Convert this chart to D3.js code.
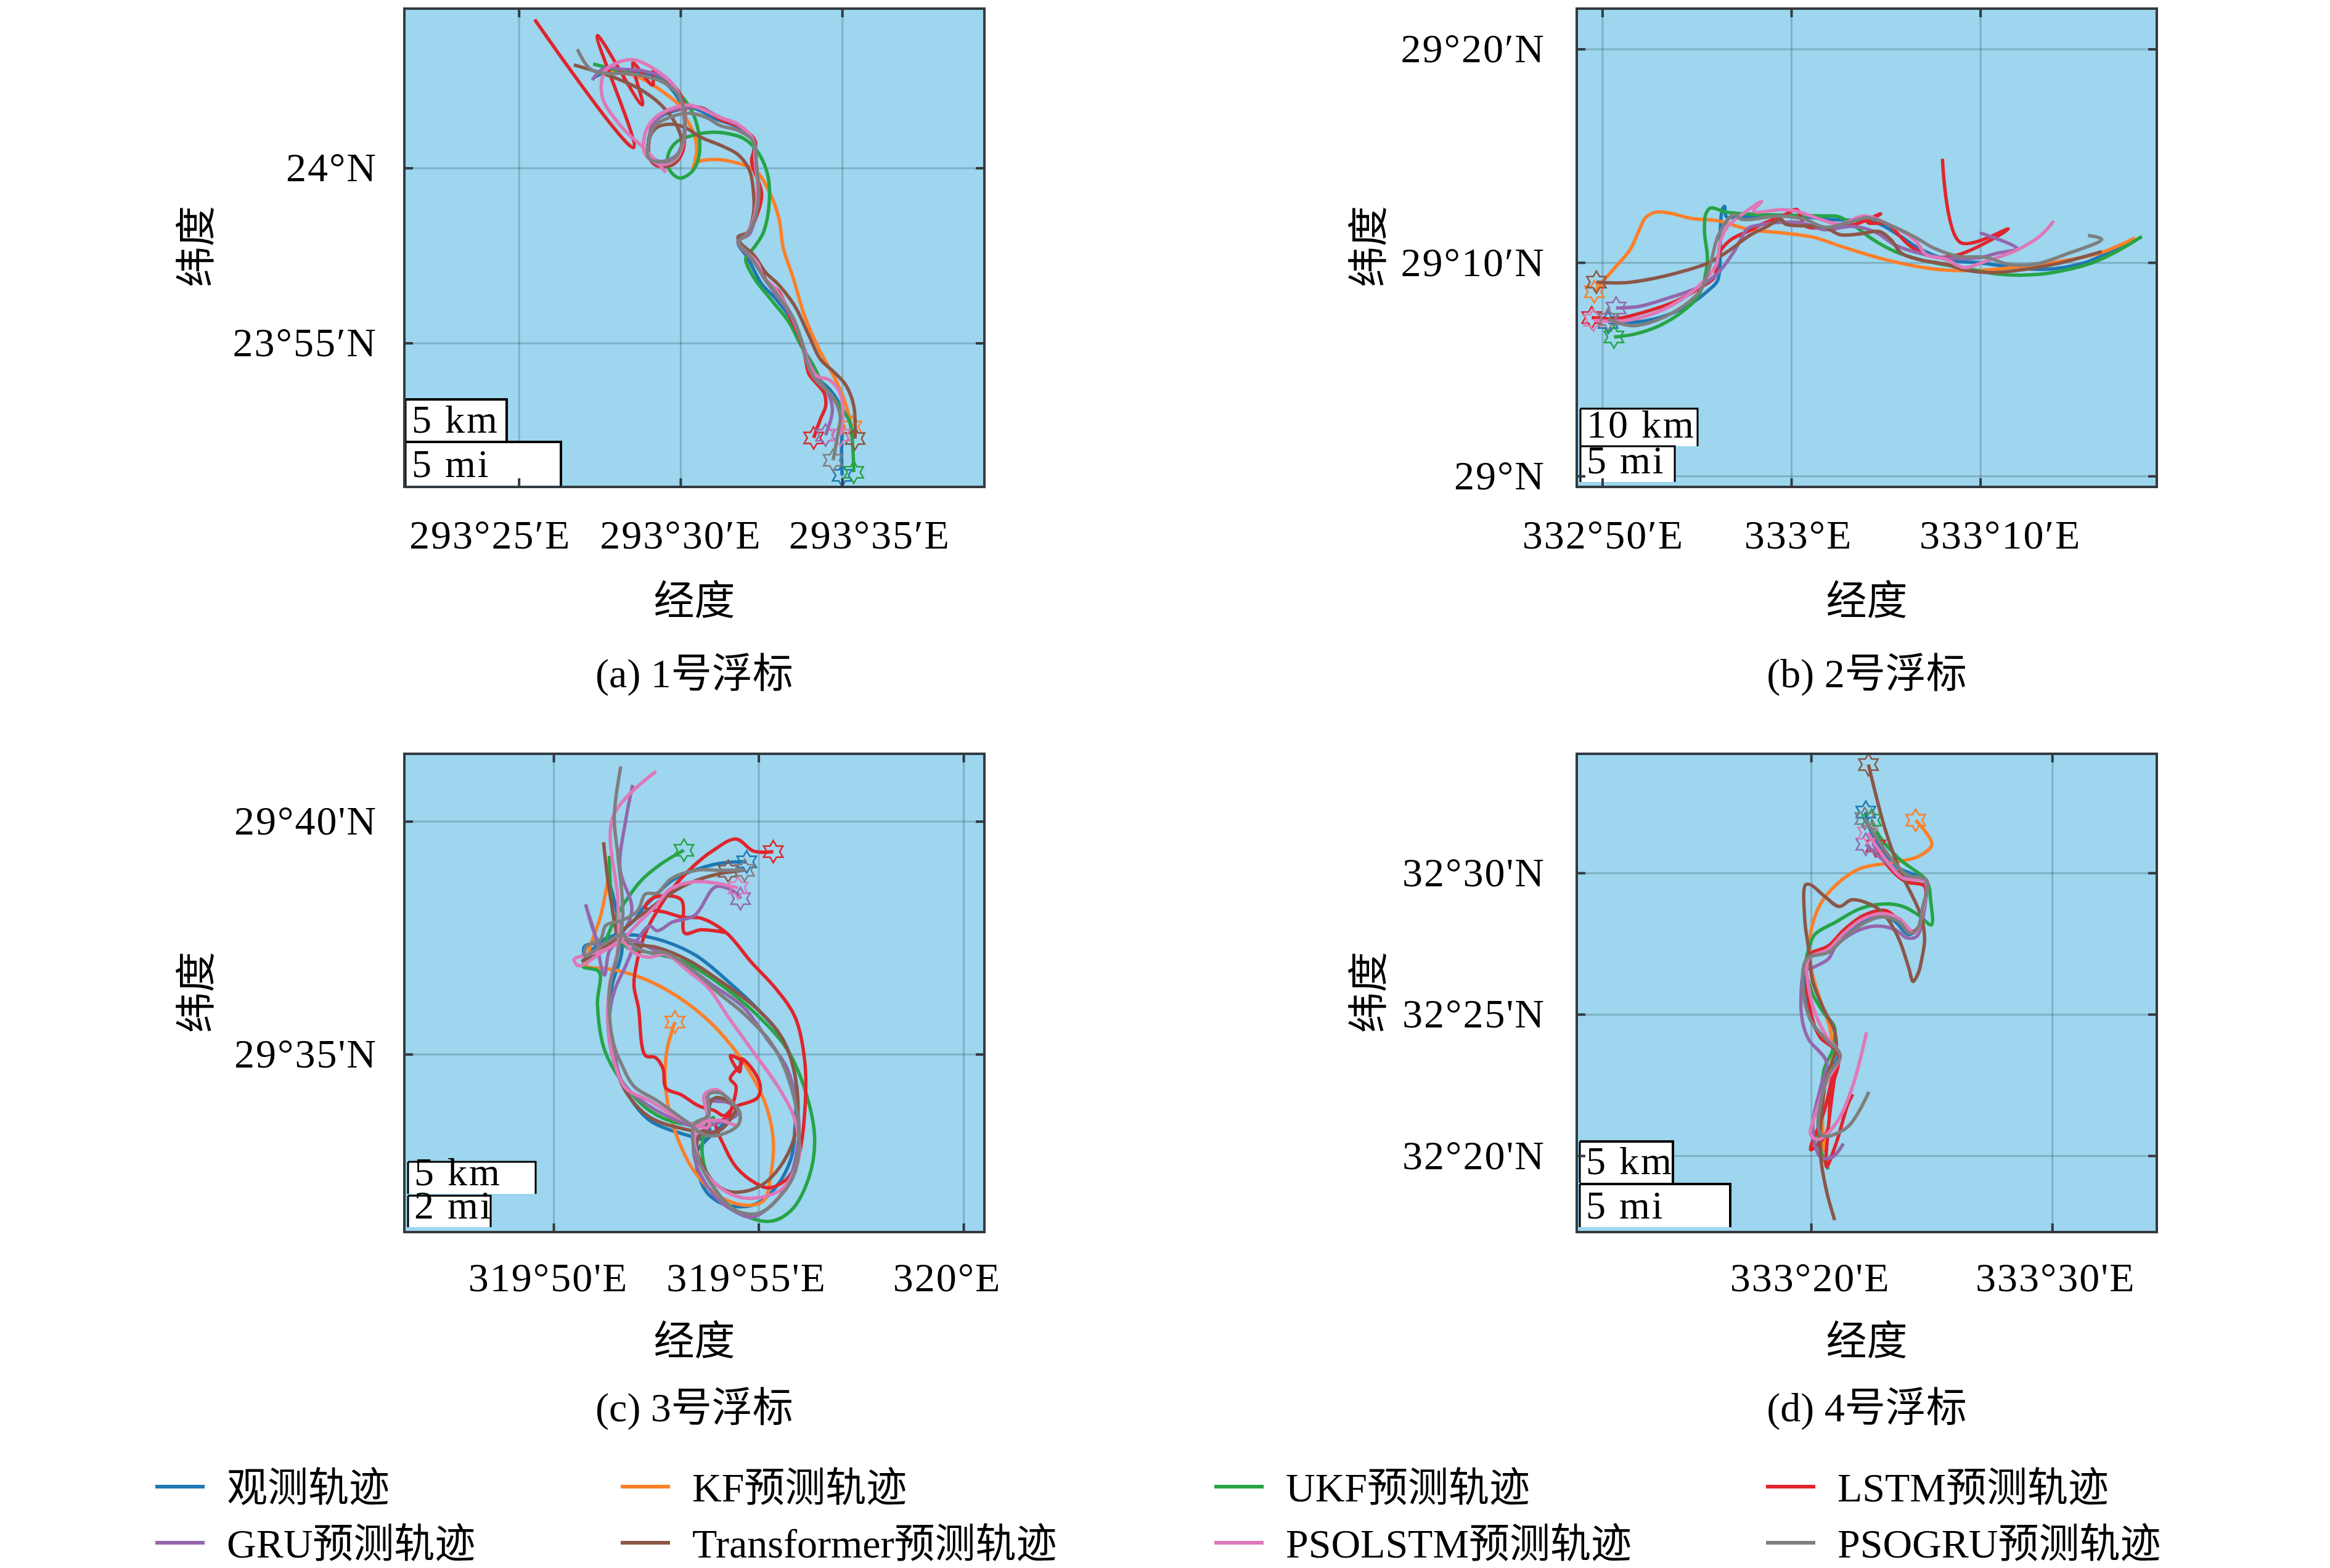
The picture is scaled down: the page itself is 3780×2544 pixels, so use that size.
<!DOCTYPE html>
<html>
<head>
<meta charset="utf-8">
<script src="https://cdn.jsdelivr.net/npm/d3@7"></script>
<style>
  html, body { margin: 0; background: #fff; }
  text { font-family: "Liberation Serif", "Noto Sans CJK SC"; fill: #000; }
</style>
</head>
<body>
<svg id="chart" width="3780" height="2544"></svg>
<script>
// tracks are [lon, lat], both in arc minutes past the base degree of the buoy
// buoy 1: 293°E, 23°N
const buoy1Obs = [[35.00,51.22],[34.98,51.91],[35.00,52.64],[34.94,53.20],[34.63,53.66],[34.21,54.02],[33.97,54.39],[33.72,55.04],[33.42,55.68],[32.93,56.28],[32.51,56.69],[32.08,57.43],[31.78,57.89],[32.14,58.17],[32.32,58.81],[32.38,59.64],[32.26,60.38],[32.26,60.75],[31.78,61.16],[31.11,61.39],[30.38,61.71],[29.77,61.62],[29.28,61.39],[29.04,60.93],[29.04,60.38],[29.46,60.15],[29.89,60.29],[30.13,60.93],[30.07,61.67],[29.83,62.13],[29.28,62.59],[28.55,62.73],[27.70,62.73],[27.34,62.59]];
const buoy1Kf = [[35.30,52.60],[35.06,53.38],[34.76,54.02],[34.27,54.85],[33.84,55.77],[33.48,56.88],[33.18,57.71],[33.05,58.54],[32.75,59.32],[32.32,59.92],[31.72,60.15],[30.99,60.24],[30.50,60.15],[30.38,59.92],[30.50,60.47],[30.44,60.93],[30.19,61.39],[29.95,61.80],[29.46,62.17],[28.92,62.50],[28.31,62.70],[27.70,62.73]];
const buoy1Ukf = [[35.36,51.31],[35.33,52.00],[35.24,52.73],[34.94,53.20],[34.45,53.75],[34.09,54.39],[33.72,54.94],[33.36,55.59],[32.81,56.23],[32.26,56.88],[32.02,57.43],[32.26,57.71],[32.57,58.17],[32.75,59.09],[32.69,59.83],[32.38,60.47],[31.96,60.84],[31.47,60.98],[30.99,61.02],[30.38,60.93],[29.89,60.75],[29.62,60.38],[29.65,59.96],[29.98,59.71],[30.38,59.92],[30.58,60.38],[30.56,61.02],[30.38,61.57],[30.13,61.94],[29.65,62.40],[29.04,62.59],[28.31,62.73],[27.76,62.86],[27.30,62.97]];
const buoy1Lstm = [[34.12,52.29],[34.33,52.83],[34.49,53.20],[34.45,53.56],[34.21,53.84],[33.97,54.12],[33.84,54.67],[33.66,55.22],[33.42,55.68],[33.05,56.46],[32.69,56.74],[32.45,57.15],[32.08,57.52],[31.78,57.89],[32.08,58.12],[32.32,58.54],[32.51,59.27],[32.20,60.19],[32.32,60.75],[31.84,61.16],[31.23,61.39],[30.68,61.71],[30.13,61.71],[29.53,61.57],[29.16,61.30],[29.04,60.84],[29.04,60.29],[29.28,60.06],[29.77,60.10],[30.07,60.47],[30.13,61.11],[30.13,61.67],[29.95,62.17],[29.53,62.54],[29.16,62.77],[29.14,62.36],[28.53,63.00],[28.82,61.80],[27.43,63.78],[28.55,60.58],[25.49,64.24]];
const buoy1Gru = [[34.49,52.37],[34.70,53.10],[34.57,53.56],[34.21,54.02],[33.97,54.48],[33.72,55.13],[33.42,55.77],[32.93,56.42],[32.63,56.79],[32.32,57.25],[32.08,57.52],[31.78,57.89],[32.14,58.12],[32.32,58.63],[32.42,59.27],[32.32,60.19],[32.26,60.75],[31.78,61.21],[31.23,61.44],[30.62,61.71],[30.01,61.71],[29.46,61.53],[29.16,61.25],[29.04,60.84],[29.04,60.29],[29.46,60.19],[29.89,60.38],[30.07,60.75],[30.11,61.48],[29.89,62.22],[29.46,62.59],[28.86,62.77],[28.19,62.82],[27.64,62.85],[27.27,62.51]];
const buoy1Transformer = [[35.40,52.27],[35.36,53.20],[35.12,53.79],[34.76,54.16],[34.33,54.53],[33.97,55.22],[33.54,56.05],[33.05,56.65],[32.63,57.02],[32.26,57.52],[31.84,57.87],[31.78,58.03],[32.08,58.17],[32.26,58.72],[32.26,59.27],[32.14,59.92],[31.78,60.38],[31.23,60.65],[30.62,60.88],[30.13,61.16],[29.71,61.25],[29.28,61.16],[29.04,60.84],[29.04,60.29],[29.53,60.03],[29.89,60.24],[30.04,60.75],[29.83,61.30],[29.40,61.80],[28.80,62.22],[28.07,62.54],[27.34,62.77],[26.70,62.94]];
const buoy1PsoLstm = [[34.94,52.37],[35.02,52.92],[34.94,53.56],[34.63,53.93],[34.21,54.07],[33.97,54.39],[33.72,55.13],[33.42,55.82],[32.93,56.56],[32.57,56.88],[32.38,57.29],[32.08,57.57],[31.78,57.89],[32.02,58.08],[32.26,58.54],[32.38,59.36],[32.30,60.29],[32.26,60.79],[31.78,61.25],[31.23,61.44],[30.68,61.67],[30.26,61.80],[29.65,61.67],[29.16,61.39],[28.89,60.93],[28.92,60.38],[29.46,60.10],[29.89,60.29],[30.11,60.84],[30.11,61.57],[29.83,62.31],[29.28,62.77],[28.55,63.09],[27.94,62.96],[27.64,62.73],[27.58,62.03],[28.19,61.16],[28.92,60.52],[29.55,59.87]];
const buoy1PsoGru = [[34.72,51.65],[34.88,52.46],[34.94,52.92],[34.70,53.47],[34.15,53.98],[33.90,54.48],[33.72,55.13],[33.48,55.73],[32.93,56.46],[32.57,56.88],[32.26,57.34],[32.02,57.62],[31.78,57.89],[32.08,58.12],[32.32,58.63],[32.42,59.27],[32.35,60.10],[32.26,60.75],[31.78,61.07],[31.23,61.21],[30.80,61.44],[30.26,61.56],[29.65,61.44],[29.22,61.21],[29.04,60.84],[29.01,60.29],[29.40,60.17],[29.83,60.29],[30.07,60.75],[30.13,61.48],[29.95,62.08],[29.46,62.45],[28.86,62.63],[28.19,62.70],[27.70,62.70],[27.21,62.82],[26.81,63.39]];

// buoy 2: 332°E, 29°N
const buoy2Obs = [[50.31,7.19],[51.56,7.19],[53.02,7.42],[54.47,7.95],[55.62,8.70],[56.10,9.15],[56.24,10.36],[56.24,11.42],[56.35,12.48],[56.47,12.63],[56.56,12.15],[57.39,12.15],[59.88,12.21],[61.97,12.02],[64.46,11.87],[65.71,11.27],[66.75,10.66],[68.21,10.14],[70.00,9.98],[71.33,9.83],[73.41,9.68],[75.49,9.98],[76.53,10.36],[78.20,11.04]];
const buoy2Kf = [[49.58,8.63],[50.52,9.61],[51.46,10.59],[51.98,11.57],[52.29,12.10],[52.85,12.36],[53.64,12.30],[54.68,12.07],[56.14,11.95],[57.80,11.54],[59.47,11.39],[61.13,11.19],[62.80,10.71],[64.67,10.21],[66.54,9.83],[68.21,9.64],[70.08,9.64],[71.95,9.79],[74.04,10.03],[76.32,10.44],[78.20,11.15]];
const buoy2Ukf = [[50.62,6.51],[51.77,6.66],[53.02,7.04],[54.27,7.72],[55.10,8.47],[55.56,10.06],[55.41,11.42],[55.47,12.25],[55.72,12.55],[56.56,12.36],[58.22,12.25],[59.88,12.21],[61.76,12.18],[62.49,12.15],[63.21,11.80],[64.25,11.12],[65.50,10.51],[67.17,10.06],[69.04,9.76],[70.91,9.46],[72.37,9.41],[73.83,9.53],[75.91,9.98],[77.37,10.59],[78.55,11.22]];
const buoy2Lstm = [[49.44,7.42],[50.73,7.37],[52.39,7.72],[53.85,8.17],[55.10,8.78],[55.93,9.31],[56.14,10.36],[56.76,11.04],[57.80,11.50],[58.64,11.87],[59.68,12.25],[60.30,12.48],[60.72,11.72],[61.97,11.65],[63.42,11.80],[64.73,12.28],[64.05,11.87],[65.09,11.80],[65.71,11.27],[66.34,10.74],[67.38,10.29],[68.83,10.36],[71.48,11.57],[68.94,10.94],[68.00,14.86]];
const buoy2Gru = [[50.73,7.87],[51.98,7.95],[53.43,8.32],[55.10,8.85],[56.14,9.53],[56.97,10.51],[57.60,11.50],[57.80,11.65],[58.64,11.80],[59.26,11.87],[60.51,11.87],[61.76,11.54],[63.21,11.69],[64.46,11.42],[65.50,10.82],[66.75,10.44],[68.21,10.21],[69.87,10.21],[70.91,10.44],[71.95,10.66],[69.98,11.39]];
const buoy2Transformer = [[49.69,9.08],[51.14,9.05],[52.81,9.27],[54.47,9.64],[55.62,9.98],[56.76,10.59],[57.80,11.27],[58.64,11.65],[59.47,12.02],[59.68,11.80],[60.72,11.72],[61.76,11.65],[62.59,11.30],[63.63,11.34],[64.67,11.45],[65.30,11.04],[65.82,10.44],[66.75,10.14],[68.21,9.91],[69.25,9.64],[70.71,9.53],[72.37,9.68],[74.24,9.98],[76.43,10.51]];
const buoy2PsoLstm = [[49.54,7.30],[51.14,7.27],[52.81,7.64],[54.27,8.32],[55.31,9.08],[56.03,9.91],[56.24,10.97],[56.66,11.72],[57.39,12.25],[58.43,12.86],[58.01,12.40],[59.57,12.48],[60.30,12.40],[61.55,12.02],[62.59,11.80],[63.84,12.18],[65.30,11.72],[66.54,11.04],[67.17,10.36],[68.21,10.14],[69.15,9.76],[70.29,10.06],[71.95,10.59],[73.20,11.27],[73.89,11.95]];
const buoy2PsoGru = [[50.31,7.34],[51.56,7.04],[52.81,7.27],[54.27,7.95],[55.20,8.70],[55.72,9.91],[56.14,11.27],[56.97,12.25],[57.39,12.02],[59.47,12.18],[60.72,12.02],[61.76,11.65],[63.01,11.87],[64.05,12.10],[65.30,11.72],[66.54,11.19],[67.58,10.66],[68.83,10.29],[70.29,10.24],[71.54,9.91],[72.99,9.94],[74.45,10.36],[76.43,11.09],[75.70,11.27]];

// buoy 3: 319°E, 29°N
const buoy3Obs = [[54.71,39.13],[54.26,39.12],[53.68,39.02],[52.91,38.74],[52.44,38.36],[52.20,38.15],[51.96,37.87],[51.57,37.60],[51.05,37.39],[50.76,37.32],[50.76,37.11],[51.28,37.49],[51.96,37.56],[52.72,37.42],[53.49,37.11],[54.26,36.56],[55.02,35.93],[55.60,35.31],[55.89,34.55],[55.89,33.44],[55.79,32.75],[55.41,32.13],[54.93,31.78],[54.26,31.75],[53.78,31.99],[53.54,32.40],[53.49,32.89],[53.73,33.16],[54.16,33.51],[54.45,33.79],[54.26,34.00],[53.87,34.03],[53.78,33.65],[53.78,33.20],[53.11,33.30],[52.34,33.58],[51.86,34.07],[51.48,34.83],[51.33,35.66],[51.43,36.49],[51.67,37.25],[51.38,38.64]];
const buoy3Kf = [[52.96,35.69],[52.77,35.10],[52.72,34.48],[52.82,33.79],[53.01,33.23],[53.39,32.54],[53.97,31.99],[54.64,31.76],[55.12,31.85],[55.31,32.47],[55.36,33.16],[55.17,33.93],[54.83,34.55],[54.35,35.17],[53.68,35.80],[52.82,36.35],[51.96,36.70],[51.28,36.84],[50.81,36.90],[50.90,37.32],[51.14,37.94],[51.33,38.77]];
const buoy3Ukf = [[53.18,39.38],[52.63,39.09],[52.15,38.74],[51.76,38.29],[51.48,37.87],[51.19,37.32],[50.71,36.89],[51.11,36.77],[51.07,36.07],[51.24,35.10],[51.67,34.41],[52.34,33.79],[53.11,33.51],[53.78,33.58],[53.90,33.64],[53.68,33.30],[53.63,32.82],[53.87,32.20],[54.45,31.64],[55.26,31.41],[55.79,31.64],[56.22,32.33],[56.37,33.16],[56.17,34.13],[55.70,35.10],[54.93,35.87],[53.97,36.56],[53.11,37.01],[52.34,37.18],[51.76,37.32],[51.48,37.87],[51.36,39.26]];
const buoy3Lstm = [[55.36,39.35],[54.88,39.36],[54.45,39.62],[53.87,39.36],[53.39,39.02],[52.91,38.57],[52.53,38.08],[52.24,37.60],[52.05,37.04],[51.96,36.49],[52.07,36.00],[52.24,34.97],[52.48,34.93],[52.67,34.69],[52.74,34.27],[53.11,34.13],[53.54,33.89],[53.92,33.79],[54.16,33.68],[54.40,33.86],[54.98,34.07],[55.02,34.41],[54.59,34.90],[54.54,34.62],[54.31,34.97],[54.59,34.83],[54.31,34.48],[54.45,34.31],[54.35,33.86],[54.26,33.65],[53.97,33.51],[54.16,33.03],[54.45,32.58],[54.93,32.23],[55.26,32.13],[55.70,32.33],[55.98,32.82],[56.13,33.79],[56.13,34.83],[55.89,35.80],[55.41,36.42],[54.83,36.97],[54.21,37.61],[53.59,37.92],[53.15,37.94],[52.72,38.05],[52.24,38.15],[52.44,38.36],[53.11,38.32],[53.20,37.60],[53.59,37.67],[54.21,37.61]];
const buoy3Gru = [[54.56,38.34],[54.50,38.43],[53.97,38.60],[53.44,37.98],[52.91,37.84],[52.53,37.65],[52.34,37.75],[52.05,37.46],[51.76,36.90],[51.48,36.35],[51.36,35.73],[51.48,35.03],[51.67,34.41],[52.15,34.00],[52.82,33.65],[53.49,33.44],[53.97,33.51],[54.45,33.68],[54.50,33.82],[54.26,33.96],[53.87,34.00],[53.68,34.07],[53.78,33.44],[53.44,33.16],[53.49,32.61],[53.97,31.92],[54.45,31.61],[54.83,31.50],[55.26,31.71],[55.70,32.20],[55.93,32.89],[55.98,33.58],[55.70,34.69],[55.22,35.31],[54.64,36.00],[53.87,36.49],[53.11,36.97],[52.44,37.25],[51.76,37.46],[51.38,37.25],[51.24,36.70],[51.00,37.60],[50.79,38.19],[51.19,37.32],[51.67,37.60],[51.91,38.12],[51.62,38.98],[51.76,40.02],[51.93,40.78]];
const buoy3Transformer = [[54.26,38.93],[54.64,38.95],[54.07,38.88],[53.39,38.70],[52.82,38.43],[52.34,38.12],[51.86,37.80],[51.28,37.32],[50.71,37.01],[50.90,37.11],[51.38,37.32],[51.67,37.42],[51.96,37.35],[52.53,37.29],[53.30,37.01],[53.97,36.63],[54.93,36.00],[55.55,35.38],[55.89,34.55],[55.93,33.44],[55.60,32.68],[55.02,32.16],[54.35,32.04],[53.97,32.20],[53.68,32.54],[53.49,32.96],[53.59,33.27],[54.07,33.37],[54.35,33.65],[54.45,33.86],[53.97,34.07],[53.78,33.89],[53.68,33.37],[53.11,33.41],[52.34,33.65],[51.76,34.20],[51.48,34.83],[51.33,35.66],[51.38,36.49],[51.57,37.25],[51.48,37.87],[51.33,38.70],[51.22,39.55]];
const buoy3PsoLstm = [[54.50,38.57],[53.97,38.67],[53.39,38.70],[52.82,38.53],[52.53,38.22],[52.05,37.80],[51.76,37.53],[51.28,37.25],[50.61,36.90],[50.50,37.04],[50.71,37.11],[51.28,37.25],[51.67,37.42],[51.96,37.18],[52.34,37.08],[52.72,37.15],[53.30,36.77],[53.78,36.42],[54.26,35.80],[54.83,35.10],[55.50,34.27],[55.89,33.58],[55.98,32.75],[55.60,32.13],[55.02,31.92],[54.45,31.95],[53.97,32.20],[53.59,32.61],[53.44,33.30],[53.59,33.51],[54.07,33.58],[54.50,33.48],[54.54,33.75],[54.16,34.13],[53.97,34.24],[53.68,34.13],[53.78,33.44],[53.01,33.65],[52.34,34.00],[51.76,34.27],[51.48,34.83],[51.33,35.66],[51.38,36.56],[51.57,37.25],[51.57,38.29],[51.45,40.10],[52.50,41.07]];
const buoy3PsoGru = [[54.66,38.95],[54.07,38.95],[53.49,38.95],[52.87,38.77],[52.53,38.46],[52.24,38.44],[52.05,38.08],[51.67,37.87],[51.28,37.77],[51.14,37.46],[50.81,37.32],[50.76,37.11],[51.28,37.39],[51.67,37.56],[51.96,37.32],[52.34,37.18],[52.72,37.18],[53.39,36.80],[54.07,36.28],[54.64,35.87],[55.31,35.24],[55.70,34.55],[55.98,33.44],[55.89,32.47],[55.50,31.92],[55.02,31.59],[54.45,31.64],[53.97,32.06],[53.59,32.61],[53.41,33.03],[53.44,33.51],[53.78,33.68],[53.78,34.13],[54.07,34.17],[54.35,33.96],[54.54,33.75],[54.50,33.48],[54.07,33.27],[53.68,33.27],[53.20,33.58],[52.53,34.00],[51.96,34.31],[51.67,34.76],[51.48,35.17],[51.36,35.87],[51.38,36.49],[51.57,37.18],[51.69,38.01],[51.57,39.26],[51.48,40.09],[51.64,41.18]];

// buoy 4: 333°E, 32°N
const buoy4Obs = [[22.27,32.15],[22.35,31.75],[22.84,30.95],[23.57,30.21],[24.71,29.70],[24.71,28.79],[24.47,28.10],[24.06,27.82],[23.49,28.27],[23.00,28.50],[22.19,28.27],[21.37,27.76],[20.72,27.30],[19.90,27.08],[19.74,26.16],[19.90,25.02],[20.39,24.22],[21.13,23.60],[20.64,22.74],[20.39,21.60],[20.39,20.69],[20.47,19.90]];
const buoy4Kf = [[24.34,31.86],[25.01,31.01],[24.47,30.59],[23.49,30.38],[22.02,30.15],[21.04,29.58],[20.39,28.90],[19.98,27.87],[19.98,26.73],[20.39,25.48],[20.80,24.45],[20.88,23.43],[20.55,22.40],[20.47,21.26],[20.55,20.12]];
const buoy4Ukf = [[22.51,31.86],[22.84,31.29],[23.65,30.50],[24.80,29.70],[24.96,29.01],[24.99,28.16],[24.47,28.50],[23.82,28.81],[23.00,28.90],[22.02,28.73],[21.04,28.27],[20.15,27.82],[19.90,27.30],[19.77,26.73],[20.07,25.71],[20.55,25.02],[20.96,24.57],[20.91,23.77],[20.55,23.08],[20.39,21.83],[20.31,20.44],[20.72,19.52]];
const buoy4Lstm = [[22.68,30.95],[23.16,30.27],[23.90,29.70],[24.71,29.53],[24.71,28.90],[24.55,28.22],[24.23,27.93],[23.65,28.33],[23.08,28.67],[22.19,28.50],[21.37,27.99],[20.72,27.42],[19.90,27.08],[19.82,26.16],[20.07,24.79],[20.39,24.17],[21.13,23.60],[20.80,22.17],[20.64,20.80],[19.98,20.21],[20.55,21.60],[21.01,23.20],[20.72,21.03],[20.64,19.61],[21.04,20.44],[21.53,21.83],[21.73,22.17]];
const buoy4Gru = [[22.27,31.01],[23.16,30.33],[23.98,29.81],[24.71,29.70],[24.71,28.79],[24.39,27.76],[23.98,27.70],[23.49,27.99],[22.68,28.12],[21.86,27.93],[21.04,27.42],[20.72,26.96],[20.15,26.68],[19.74,26.51],[19.58,25.59],[19.66,24.68],[19.90,24.11],[20.64,23.31],[20.39,22.40],[20.07,21.03],[20.39,19.95],[20.88,19.95],[21.34,20.43]];
const buoy4Transformer = [[22.38,33.83],[22.68,32.78],[23.08,31.52],[23.65,30.15],[24.55,28.50],[24.71,27.65],[24.55,26.79],[24.47,26.51],[24.23,26.16],[24.06,26.62],[23.65,27.65],[23.16,28.39],[22.68,28.79],[21.70,29.05],[21.17,28.81],[20.55,29.18],[19.98,29.58],[19.77,29.58],[19.74,28.33],[19.90,27.30],[20.07,26.16],[20.55,25.14],[20.96,24.45],[21.04,23.77],[20.64,22.74],[20.39,21.03],[20.39,20.01],[20.64,18.75],[20.98,17.72]];
const buoy4PsoLstm = [[22.35,31.41],[23.08,30.50],[23.82,29.81],[24.76,29.70],[24.63,28.67],[24.31,27.87],[23.65,28.39],[23.00,28.56],[22.19,28.39],[21.37,27.87],[20.72,27.30],[19.90,26.96],[19.90,25.94],[20.23,24.91],[20.64,24.22],[21.21,23.54],[20.72,22.74],[20.23,21.60],[19.98,20.75],[20.31,20.58],[21.04,21.15],[21.70,22.40],[22.30,24.36]];
const buoy4PsoGru = [[22.23,31.92],[22.68,31.29],[23.33,30.50],[23.98,29.93],[24.80,29.73],[24.63,28.79],[24.39,27.99],[24.06,27.87],[23.65,28.27],[22.92,28.44],[22.19,28.22],[21.37,27.70],[20.72,27.19],[19.82,26.96],[19.66,25.94],[19.98,24.79],[20.55,24.17],[21.21,23.54],[20.72,22.86],[20.39,21.83],[20.31,20.92],[20.55,20.69],[21.53,21.03],[22.40,22.26]];

const seriesNames = ["观测轨迹", "KF预测轨迹", "UKF预测轨迹", "LSTM预测轨迹", "GRU预测轨迹", "Transformer预测轨迹", "PSOLSTM预测轨迹", "PSOGRU预测轨迹"];
const seriesColors = ["#1f77b4", "#fd7f28", "#27a446", "#e0252c", "#9467ad", "#8c5647", "#df78b8", "#7f7f7f"];

const panels = [
  { left: 656, top: 14, xDomain: [21.46, 39.40], yDomain: [50.89, 64.55],
    tracks: [buoy1Obs, buoy1Kf, buoy1Ukf, buoy1Lstm, buoy1Gru, buoy1Transformer, buoy1PsoLstm, buoy1PsoGru],
    xTicks: [25, 30, 35], xLabels: ["293°25′E", "293°30′E", "293°35′E"], xShift: [-47, 0, 44],
    yTicks: [55, 60], yLabels: ["23°55′N", "24°N"], yPad: 44,
    caption: "(a) 1号浮标",
    bars: [{ t: "5 km", x0: 2, x1: 166, y0: 634, y1: 702 }, { t: "5 mi", x0: 2, x1: 254, y0: 703, y1: 774 }] },
  { left: 2558, top: 14, xDomain: [48.65, 79.34], yDomain: [-0.51, 21.89],
    tracks: [buoy2Obs, buoy2Kf, buoy2Ukf, buoy2Lstm, buoy2Gru, buoy2Transformer, buoy2PsoLstm, buoy2PsoGru],
    xTicks: [50, 60, 70], xLabels: ["332°50′E", "333°E", "333°10′E"], xShift: [1, 11, 32],
    yTicks: [0, 10, 20], yLabels: ["29°N", "29°10′N", "29°20′N"], yPad: 51,
    caption: "(b) 2号浮标",
    bars: [{ t: "10 km", x0: 6, x1: 196, y0: 649, y1: 710 }, { t: "5 mi", x0: 6, x1: 159, y0: 710, y1: 768 }] },
  { left: 656, top: 1223, xDomain: [46.36, 60.51], yDomain: [31.18, 41.45],
    tracks: [buoy3Obs, buoy3Kf, buoy3Ukf, buoy3Lstm, buoy3Gru, buoy3Transformer, buoy3PsoLstm, buoy3PsoGru],
    xTicks: [50, 55, 60], xLabels: ["319°50'E", "319°55'E", "320°E"], xShift: [-9, -20, -27],
    yTicks: [35, 40], yLabels: ["29°35'N", "29°40'N"], yPad: 44,
    caption: "(c) 3号浮标",
    bars: [{ t: "5 km", x0: 6, x1: 213, y0: 662, y1: 714 }, { t: "2 mi", x0: 6, x1: 140, y0: 717, y1: 768 }] },
  { left: 2558, top: 1223, xDomain: [10.28, 34.34], yDomain: [17.30, 34.21],
    tracks: [buoy4Obs, buoy4Kf, buoy4Ukf, buoy4Lstm, buoy4Gru, buoy4Transformer, buoy4PsoLstm, buoy4PsoGru],
    xTicks: [20, 30], xLabels: ["333°20'E", "333°30'E"], xShift: [-2, 5],
    yTicks: [20, 25, 30], yLabels: ["32°20'N", "32°25'N", "32°30'N"], yPad: 51,
    caption: "(d) 4号浮标",
    bars: [{ t: "5 km", x0: 5, x1: 156, y0: 629, y1: 696 }, { t: "5 mi", x0: 5, x1: 249, y0: 698, y1: 768 }] }
];

const width = 941, height = 776;
const fontSize = 66;
const ocean = "#9dd6ee", frame = "#333a40";

const svg = d3.select("#chart");

// six pointed outline used for the start of each track
const hexagram = {
  draw(context, size) {
    const r = Math.sqrt(size);
    for (let i = 0; i < 12; i++) {
      const rr = i % 2 ? r / Math.sqrt(3) : r;
      const a = i * Math.PI / 6;
      const px = rr * Math.sin(a), py = -rr * Math.cos(a);
      if (i) context.lineTo(px, py); else context.moveTo(px, py);
    }
    context.closePath();
  }
};
const star = d3.symbol().type(hexagram).size(324);

panels.forEach(function(p, idx) {
  const x = d3.scaleLinear().domain(p.xDomain).range([0, width]);
  const y = d3.scaleLinear().domain(p.yDomain).range([height, 0]);
  const g = svg.append("g").attr("transform", `translate(${p.left},${p.top})`);

  g.append("rect").attr("width", width).attr("height", height).attr("fill", ocean);

  // grid
  g.append("g").attr("transform", `translate(0,${height})`)
    .call(d3.axisBottom(x).tickValues(p.xTicks).tickSize(-height).tickFormat(""))
    .call(a => a.select(".domain").remove())
    .selectAll("line").attr("stroke", "#2c3e4a").attr("stroke-opacity", 0.25).attr("stroke-width", 3);
  g.append("g")
    .call(d3.axisLeft(y).tickValues(p.yTicks).tickSize(-width).tickFormat(""))
    .call(a => a.select(".domain").remove())
    .selectAll("line").attr("stroke", "#2c3e4a").attr("stroke-opacity", 0.25).attr("stroke-width", 3);

  const line = d3.line()
    .x(d => x(d[0]))
    .y(d => y(d[1]))
    .curve(d3.curveCatmullRom.alpha(0.5));

  p.tracks.forEach(function(track, i) {
    g.append("path")
      .attr("d", line(track))
      .attr("fill", "none")
      .attr("stroke", seriesColors[i])
      .attr("stroke-width", 5.5)
      .attr("stroke-linejoin", "round");
    g.append("path")
      .attr("d", star())
      .attr("transform", `translate(${x(track[0][0])},${y(track[0][1])})`)
      .attr("fill", "none")
      .attr("stroke", seriesColors[i])
      .attr("stroke-width", 2.5);
  });

  // scale bars
  p.bars.forEach(function(b) {
    g.append("rect").attr("x", b.x0).attr("y", b.y0)
      .attr("width", b.x1 - b.x0).attr("height", b.y1 - b.y0)
      .attr("fill", "#fff");
    g.append("path")
      .attr("d", `M${b.x0},${b.y1}V${b.y0}`)
      .attr("stroke", "#000").attr("stroke-width", 3).attr("fill", "none");
    g.append("path")
      .attr("d", `M${b.x0},${b.y0}H${b.x1}V${b.y1}`)
      .attr("stroke", "#000").attr("stroke-width", idx === 0 || idx === 3 ? 4 : 3).attr("fill", "none");
    g.append("text")
      .attr("x", b.x0 + 10)
      .attr("y", b.y1 - 14)
      .attr("font-size", fontSize - 2)
      .attr("letter-spacing", 3)
      .text(b.t);
  });

  // inward ticks and labels, frame on top
  g.append("g").attr("transform", `translate(0,${height})`)
    .call(d3.axisBottom(x).tickValues(p.xTicks).tickSize(-14).tickFormat((d, i) => p.xLabels[i]))
    .call(a => a.select(".domain").remove())
    .call(a => a.selectAll("line").attr("stroke", frame).attr("stroke-width", 4))
    .call(a => a.selectAll("text")
      .attr("y", idx < 2 ? 100 : 96).attr("dy", 0)
      .attr("dx", (d, i) => p.xShift[i])
      .attr("font-size", fontSize).attr("font-family", null).attr("letter-spacing", 2))
    .attr("font-family", null);
  g.append("g")
    .call(d3.axisTop(x).tickValues(p.xTicks).tickSize(-14).tickFormat(""))
    .call(a => a.select(".domain").remove())
    .selectAll("line").attr("stroke", frame).attr("stroke-width", 4);
  g.append("g")
    .call(d3.axisLeft(y).tickValues(p.yTicks).tickSize(-14).tickPadding(p.yPad).tickFormat((d, i) => p.yLabels[i]))
    .call(a => a.select(".domain").remove())
    .call(a => a.selectAll("line").attr("stroke", frame).attr("stroke-width", 4))
    .call(a => a.selectAll("text")
      .attr("x", -p.yPad)
      .attr("font-size", fontSize).attr("letter-spacing", 2))
    .attr("font-family", null);
  g.append("g").attr("transform", `translate(${width},0)`)
    .call(d3.axisRight(y).tickValues(p.yTicks).tickSize(-14).tickFormat(""))
    .call(a => a.select(".domain").remove())
    .selectAll("line").attr("stroke", frame).attr("stroke-width", 4);
  g.append("rect").attr("width", width).attr("height", height)
    .attr("fill", "none").attr("stroke", frame).attr("stroke-width", 4);

  // axis names and caption
  const axisRowY = idx < 2 ? 960 : 952;
  svg.append("text")
    .attr("x", p.left + width / 2 + (idx % 2 ? 0 : 0))
    .attr("y", idx < 2 ? 974 : 2175)
    .attr("text-anchor", "middle").attr("dominant-baseline", "central")
    .attr("font-size", fontSize).text("经度");
  svg.append("text")
    .attr("transform", `translate(${p.left - 338},${idx < 2 ? 400 : 1610}) rotate(-90)`)
    .attr("text-anchor", "middle").attr("dominant-baseline", "central")
    .attr("font-size", fontSize).text("纬度");
  svg.append("text")
    .attr("x", p.left + width / 2)
    .attr("y", idx < 2 ? 1092 : 2283)
    .attr("text-anchor", "middle").attr("dominant-baseline", "central")
    .attr("font-size", fontSize).text(p.caption);
});

// legend, two rows and four columns
const legendCols = [252, 1007, 1970, 2865];
const legendRows = [2412, 2503];
const legendOrder = [0, 1, 2, 3, 4, 5, 6, 7];
legendOrder.forEach(function(s, i) {
  const lx = legendCols[i % 4], ly = legendRows[Math.floor(i / 4)];
  svg.append("line")
    .attr("x1", lx).attr("x2", lx + 80)
    .attr("y1", ly).attr("y2", ly)
    .attr("stroke", seriesColors[s]).attr("stroke-width", 6);
  svg.append("text")
    .attr("x", lx + 116).attr("y", ly + 1)
    .attr("dominant-baseline", "central")
    .attr("font-size", fontSize).text(seriesNames[s]);
});
</script>
</body>
</html>
